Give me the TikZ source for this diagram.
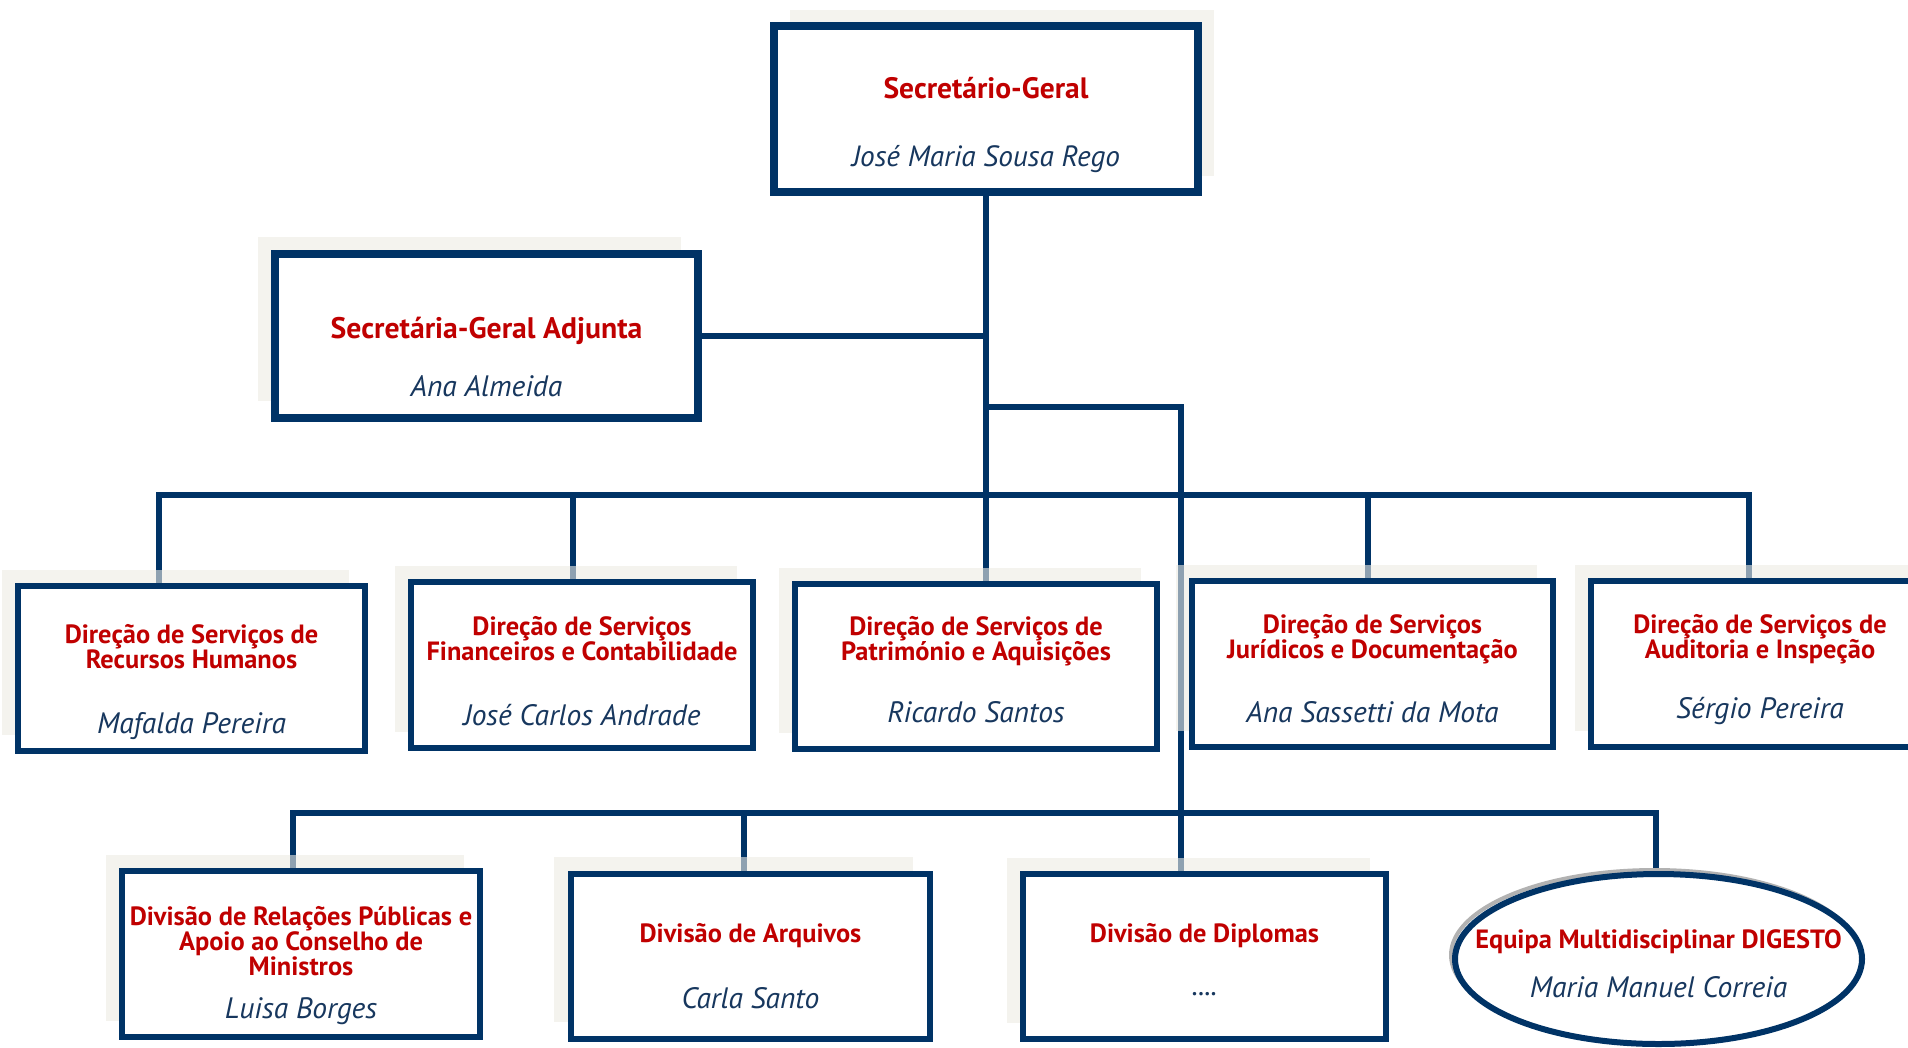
\documentclass[tikz,border=0pt]{standalone}
\usepackage{fontspec}
\setmainfont{PT Sans}
\usetikzlibrary{shapes.geometric, shadows, backgrounds}

\definecolor{orgnavy}{RGB}{0,51,102}
\definecolor{orgred}{RGB}{192,0,0}
\definecolor{namenavy}{RGB}{23,55,94}
\definecolor{orgshade}{RGB}{237,235,227}

\newcommand{\ttl}{\fontsize{26.4pt}{25pt}\selectfont\bfseries\color{orgred}}
\newcommand{\nm}{\fontsize{29.5pt}{30pt}\selectfont\itshape\color{namenavy}}
% box text: width, height, top gap, title, gap, name
\newcommand{\cargo}[6]{\parbox[c][#2][t]{#1}{\centering\lineskiplimit=-100pt\parskip=0pt
  \vspace*{#3}{\ttl\rule{0pt}{24pt}#4\par}\vspace{#5}{\nm #6\par}}}

\tikzset{
  unit/.style={rectangle, draw=orgnavy, line width=6pt, fill=white, inner sep=0pt},
  shadeleft/.style={general shadow={fill=orgshade, fill opacity=0.6, shadow xshift=-#1, shadow yshift=#1}},
  shadeleft/.default=16pt,
  conn/.style={draw=orgnavy, line width=5.5pt}
}

\begin{document}
\begin{tikzpicture}[x=1pt, y=-1pt]
    \useasboundingbox (0,0) rectangle (1908,1047);
    % Top
    \node[unit, line width=8pt, general shadow={fill=orgshade, fill opacity=0.6, shadow xshift=16pt, shadow yshift=16pt}] (sg) at (986,109)
      {\cargo{424pt}{166pt}{48pt}{\fontsize{29.5pt}{30pt}\selectfont Secretário-Geral}{38pt}{\fontsize{29.3pt}{30pt}\selectfont José Maria Sousa Rego}};
    \node[unit, line width=8pt, shadeleft=17pt] (sga) at (486.5,336)
      {\cargo{423pt}{164pt}{60pt}{\fontsize{29.7pt}{30pt}\selectfont Secretária-Geral Adjunta}{28pt}{Ana Almeida}};
    % Direcoes de Servicos
    \node[unit, shadeleft] (d1) at (191.5,668.5)
      {\cargo{347pt}{165pt}{33pt}{Direção de Serviços de\\Recursos Humanos}{35pt}{Mafalda Pereira}};
    \node[unit, shadeleft] (d2) at (582,665)
      {\cargo{342pt}{166pt}{29pt}{Direção de Serviços\\Financeiros e Contabilidade}{35pt}{José Carlos Andrade}};
    \node[unit, shadeleft] (d3) at (976,666.5)
      {\cargo{362pt}{165pt}{27pt}{Direção de Serviços de\\Património e Aquisições}{32pt}{Ricardo Santos}};
    \node[unit, shadeleft] (d4) at (1372.5,664)
      {\cargo{361pt}{166pt}{28pt}{Direção de Serviços\\Jurídicos e Documentação}{34pt}{Ana Sassetti da Mota}};
    \node[unit, shadeleft] (d5) at (1760,664)
      {\cargo{338pt}{166pt}{28pt}{Direção de Serviços de\\Auditoria e Inspeção}{30pt}{Sérgio Pereira}};
    % Divisoes
    \node[unit, shadeleft] (d6) at (301,954)
      {\cargo{358pt}{166pt}{30pt}{Divisão de Relações Públicas e\\Apoio ao Conselho de\\Ministros}{13pt}{Luisa Borges}};
    \node[unit, shadeleft=17pt] (d7) at (750.5,956.5)
      {\cargo{359pt}{165pt}{44pt}{Divisão de Arquivos}{36pt}{Carla Santo}};
    \node[unit, shadeleft] (d8) at (1204.5,956.5)
      {\cargo{363pt}{165pt}{44pt}{Divisão de Diplomas}{23pt}{....}};
    \node[ellipse, draw=orgnavy, line width=6pt, fill=white, inner sep=0pt, minimum width=407pt, minimum height=170pt,
      general shadow={draw=gray!60, line width=4pt, shadow xshift=-4pt, shadow yshift=4pt}] (team) at (1658.5,959)
      {\makebox[0pt]{\cargo{400pt}{120pt}{25pt}{Equipa Multidisciplinar DIGESTO}{19pt}{Maria Manuel Correia}}};
    % Connectors
    \begin{scope}[on background layer]
      \coordinate (fork) at (986,407);
      \coordinate (knee) at (1181,407);
      \coordinate (t1) at (159,495);
      \coordinate (t2) at (573,495);
      \coordinate (t4) at (1368,495);
      \coordinate (t5) at (1749,495);
      \coordinate (b1) at (293,813);
      \coordinate (b2) at (744,813);
      \coordinate (b4) at (1656,813);
      \draw[conn] (sg.south) -- (sg.south |- d3.north);
      \draw[conn] (sga.east) -- (sga.east -| sg.south);
      \draw[conn] (fork) -- (knee) -- (knee |- d8.north);
      \draw[conn] (t1 |- d1.north) -- (t1) -- (t5) -- (t5 |- d5.north);
      \draw[conn] (t2) -- (t2 |- d2.north);
      \draw[conn] (t4) -- (t4 |- d4.north);
      \draw[conn] (b1 |- d6.north) -- (b1) -- (b4) -- (b4 |- team.north);
      \draw[conn] (b2) -- (b2 |- d7.north);
    \end{scope}
\end{tikzpicture}
\end{document}
